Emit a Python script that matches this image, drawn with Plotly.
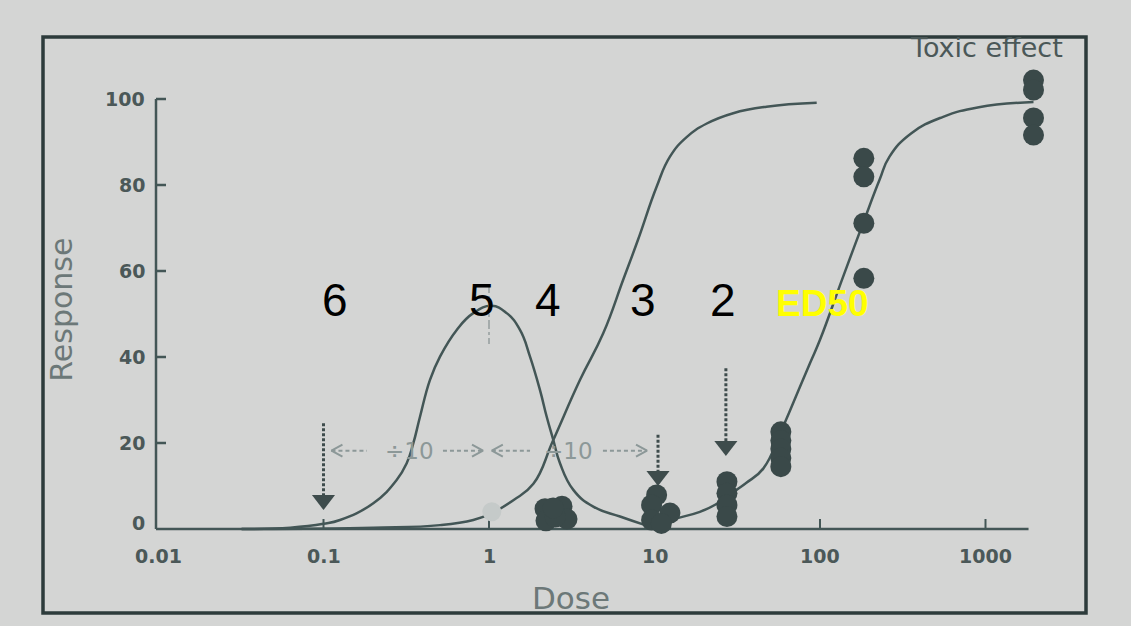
import numpy as np
import plotly.graph_objects as go

W, H = 1131, 626
# calibration of the drawing (pixels)
X0_PX, DEC_PX = 158.0, 165.5    # pixel column of dose 0.01, pixels per decade
Y0_PX, UNIT_PX = 529.0, 4.3     # pixel row of response 0, pixels per response unit

x_range = [-2 - X0_PX / DEC_PX, -2 + (W - X0_PX) / DEC_PX]
y_range = [-(H - Y0_PX) / UNIT_PX, Y0_PX / UNIT_PX]

# ---------------- data ----------------
x_ticks = [0.01, 0.1, 1, 10, 100, 1000]
x_tick_labels = ["0.01", "0.1", "1", "10", "100", "1000"]
y_ticks = [0, 20, 40, 60, 80, 100]
y_tick_labels = ["0", "20", "40", "60", "80", "100"]
x_axis_end = 1820

# bell-shaped curve (peak ~ dose 1)
bell_dose = [0.032, 0.063, 0.1, 0.1258, 0.2, 0.2767, 0.3182, 0.3487, 0.3829, 0.44,
             0.5058, 0.6383, 0.8035, 1.038, 1.279, 1.539, 1.769, 2.033, 2.232, 2.446,
             2.685, 3.232, 4.266, 6.187, 8.8]
bell_resp = [0, 0.3, 1.2, 2.1, 6, 11.4, 15.3, 19.9, 26.1, 34.7,
             40.1, 46.3, 50.2, 51.9, 50.2, 46.3, 40.1, 32.3, 26.1, 20.7,
             15.3, 9.1, 5.2, 2.9, 0.9]

# first sigmoid (therapeutic)
ther_dose = [0.032, 0.2, 0.506, 0.804, 1.04, 1.403, 1.854, 2.446, 3.55, 4.9,
             6.46, 7.94, 10.3, 12.4, 15.7, 20.7, 29.9, 47.5, 95.5]
ther_resp = [0, 0.3, 0.9, 2.1, 3.7, 6.7, 10.5, 20.7, 34.7, 45.5,
             57.9, 67.2, 79.6, 86.6, 91.2, 94.3, 96.7, 98.2, 99.1]

# second sigmoid (toxic effect)
tox_dose = [8.8, 13.6, 18.8, 23.4, 31.3, 36.1, 45.5, 58, 66.1, 87.1,
            100, 138, 182, 229, 263, 355, 550, 912, 1950]
tox_resp = [0.9, 2.5, 4.0, 5.7, 9.1, 10.8, 14.1, 22.6, 27.7, 38.6,
            44, 58.7, 71.1, 81.2, 86.6, 92, 95.8, 98.1, 99.3]

# observed points
pts_dose = ([2.18, 2.76, 2.96, 2.21, 2.51, 2.44] +
            [10.3, 9.6, 12.4, 9.6, 11.0] +
            [27.4] * 4 +
            [58] * 5 +
            [184] * 4 +
            [1950] * 4)
pts_resp = ([4.7, 5.3, 2.3, 1.9, 2.8, 4.9] +
            [7.9, 5.6, 3.7, 2.1, 1.3] +
            [11, 8.3, 5.6, 2.9] +
            [22.6, 20.6, 18.6, 16.5, 14.5] +
            [86.2, 81.9, 71.1, 58.3] +
            [104.4, 102.1, 95.6, 91.6])
grey_dose = [1.04]
grey_resp = [4.0]

# vertical dotted arrows
varrow_dose = [0.1, 10.5, 27]
varrow_top = [24.6, 21.9, 37.4]
varrow_tip = [4.4, 10, 17]

# horizontal "÷10" arrows: left tip, left dash end, label, right dash start, right tip
hdiv_level = 18.2
hdiv = [(0.1117, 0.183, 0.3286, 0.527, 0.920),
        (1.04, 1.77, 3.04, 4.88, 9.01)]
hdiv_label = "÷10"

# numbered labels
num_labels = ["6", "5", "4", "3", "2"]
num_dose = [0.1173, 0.9009, 2.288, 8.465, 25.77]
num_resp = 53.3
ed50_dose, ed50_resp = 104.2, 52.4

# ---------------- styling ----------------
BG = "#d4d5d4"
LINE = "#435656"
DOT = "#3a4949"
LIGHT = "#8c9898"
TICKC = "#4b5858"
TITLEC = "#6c7878"


def dx(dose, px):
    """shift a dose by px pixels along the log axis"""
    return dose * 10 ** (px / DEC_PX)


def dy(px):
    return px / UNIT_PX


fig = go.Figure()


def line(xs, ys, color=LINE, width=2.5, dash=None, shape="linear"):
    fig.add_trace(go.Scatter(x=xs, y=ys, mode="lines",
                             line=dict(color=color, width=width, dash=dash, shape=shape,
                                       smoothing=1.3),
                             hoverinfo="skip", showlegend=False))


# axes
y_axis_x = dx(0.01, -2)
line([y_axis_x, x_axis_end], [0, 0], width=2.5)
line([y_axis_x, y_axis_x], [0, 100], width=2.5)
for t in y_ticks[1:]:
    line([y_axis_x, dx(y_axis_x, 10)], [t, t], width=2.5)
for t in x_ticks[1:]:
    line([t, t], [0, dy(10)], width=2)

# curves
line(bell_dose, bell_resp, shape="spline")
line(ther_dose, ther_resp, shape="spline")
line(tox_dose, tox_resp, shape="spline")

# grey dash-dot marker at dose 1
line([1.0, 1.0], [57, 43], color="#a4abab", width=2, dash="dashdot")

# vertical dotted arrows
for d, top, tip in zip(varrow_dose, varrow_top, varrow_tip):
    line([d, d], [top, tip + dy(15)], color="#3e4c4c", width=3, dash="3px,2px")
fig.add_trace(go.Scatter(x=varrow_dose, y=[t + dy(10) for t in varrow_tip], mode="markers",
                         marker=dict(symbol="triangle-down", size=20, color="#3e4c4c"),
                         hoverinfo="skip", showlegend=False))

# horizontal ÷10 arrows
for lt, le, lab, rs, rt in hdiv:
    line([lt, le], [hdiv_level, hdiv_level], color=LIGHT, width=2, dash="4px,3px")
    line([rs, rt], [hdiv_level, hdiv_level], color=LIGHT, width=2, dash="4px,3px")
    line([dx(lt, 11), lt, dx(lt, 11)], [hdiv_level + dy(6), hdiv_level, hdiv_level - dy(6)],
         color=LIGHT, width=2)
    line([dx(rt, -11), rt, dx(rt, -11)], [hdiv_level + dy(6), hdiv_level, hdiv_level - dy(6)],
         color=LIGHT, width=2)

# data points
fig.add_trace(go.Scatter(x=pts_dose, y=pts_resp, mode="markers",
                         marker=dict(size=21, color=DOT, line=dict(width=0)),
                         hoverinfo="skip", showlegend=False))
fig.add_trace(go.Scatter(x=grey_dose, y=grey_resp, mode="markers",
                         marker=dict(size=19, color="#c5cac9", line=dict(width=0)),
                         hoverinfo="skip", showlegend=False))

ann = []
TICKFONT = dict(family="DejaVu Sans", size=19, color=TICKC)
for t, lab in zip(y_ticks, y_tick_labels):
    ann.append(dict(x=np.log10(dx(0.01, -11)), y=t + (1.4 if t == 0 else 0), text="<b>%s</b>" % lab,
                    xanchor="right", yanchor="middle", showarrow=False, font=TICKFONT))
for t, lab in zip(x_ticks, x_tick_labels):
    ann.append(dict(x=np.log10(t), y=-6.2, text="<b>%s</b>" % lab,
                    xanchor="center", yanchor="middle", showarrow=False, font=TICKFONT))
for lt, le, lab, rs, rt in hdiv:
    ann.append(dict(x=np.log10(lab), y=hdiv_level, text=hdiv_label, showarrow=False,
                    xanchor="center", yanchor="middle",
                    font=dict(family="DejaVu Sans", size=23, color=LIGHT)))
for lab, d in zip(num_labels, num_dose):
    ann.append(dict(x=np.log10(d), y=num_resp, text=lab, showarrow=False,
                    xanchor="center", yanchor="middle",
                    font=dict(family="Liberation Sans, Arial", size=46, color="#000000")))
ann.append(dict(x=np.log10(ed50_dose), y=ed50_resp, text="<b>ED50</b>", showarrow=False,
                xanchor="center", yanchor="middle",
                font=dict(family="Liberation Sans, Arial", size=37, color="#ffff00")))
ann.append(dict(x=np.log10(dx(0.01, -96)), y=51, text="Response", textangle=-90, showarrow=False,
                xanchor="center", yanchor="middle",
                font=dict(family="DejaVu Sans", size=30, color=TITLEC)))
ann.append(dict(x=np.log10(dx(0.01, 413)), y=-16, text="Dose", showarrow=False,
                xanchor="center", yanchor="middle",
                font=dict(family="DejaVu Sans", size=31, color=TITLEC)))
ann.append(dict(x=np.log10(dx(0.01, 828)), y=111.9, text="Toxic effect", showarrow=False,
                xanchor="center", yanchor="middle",
                font=dict(family="DejaVu Sans", size=27, color=TICKC)))

fig.update_layout(
    width=W, height=H, margin=dict(l=0, r=0, t=0, b=0),
    paper_bgcolor=BG, plot_bgcolor=BG,
    xaxis=dict(type="log", range=x_range, visible=False, fixedrange=True),
    yaxis=dict(range=y_range, visible=False, fixedrange=True),
    annotations=ann,
    shapes=[dict(type="rect", xref="paper", yref="paper",
                 x0=43 / W, x1=1086 / W, y0=1 - 613 / H, y1=1 - 37 / H,
                 line=dict(color="#2d3b3b", width=3.5), layer="below")],
)

fig.write_html("out.html",
               config={"displayModeBar": False, "staticPlot": True},
               post_script="document.body.style.margin='0px';"
                           "document.body.style.overflow='hidden';")
